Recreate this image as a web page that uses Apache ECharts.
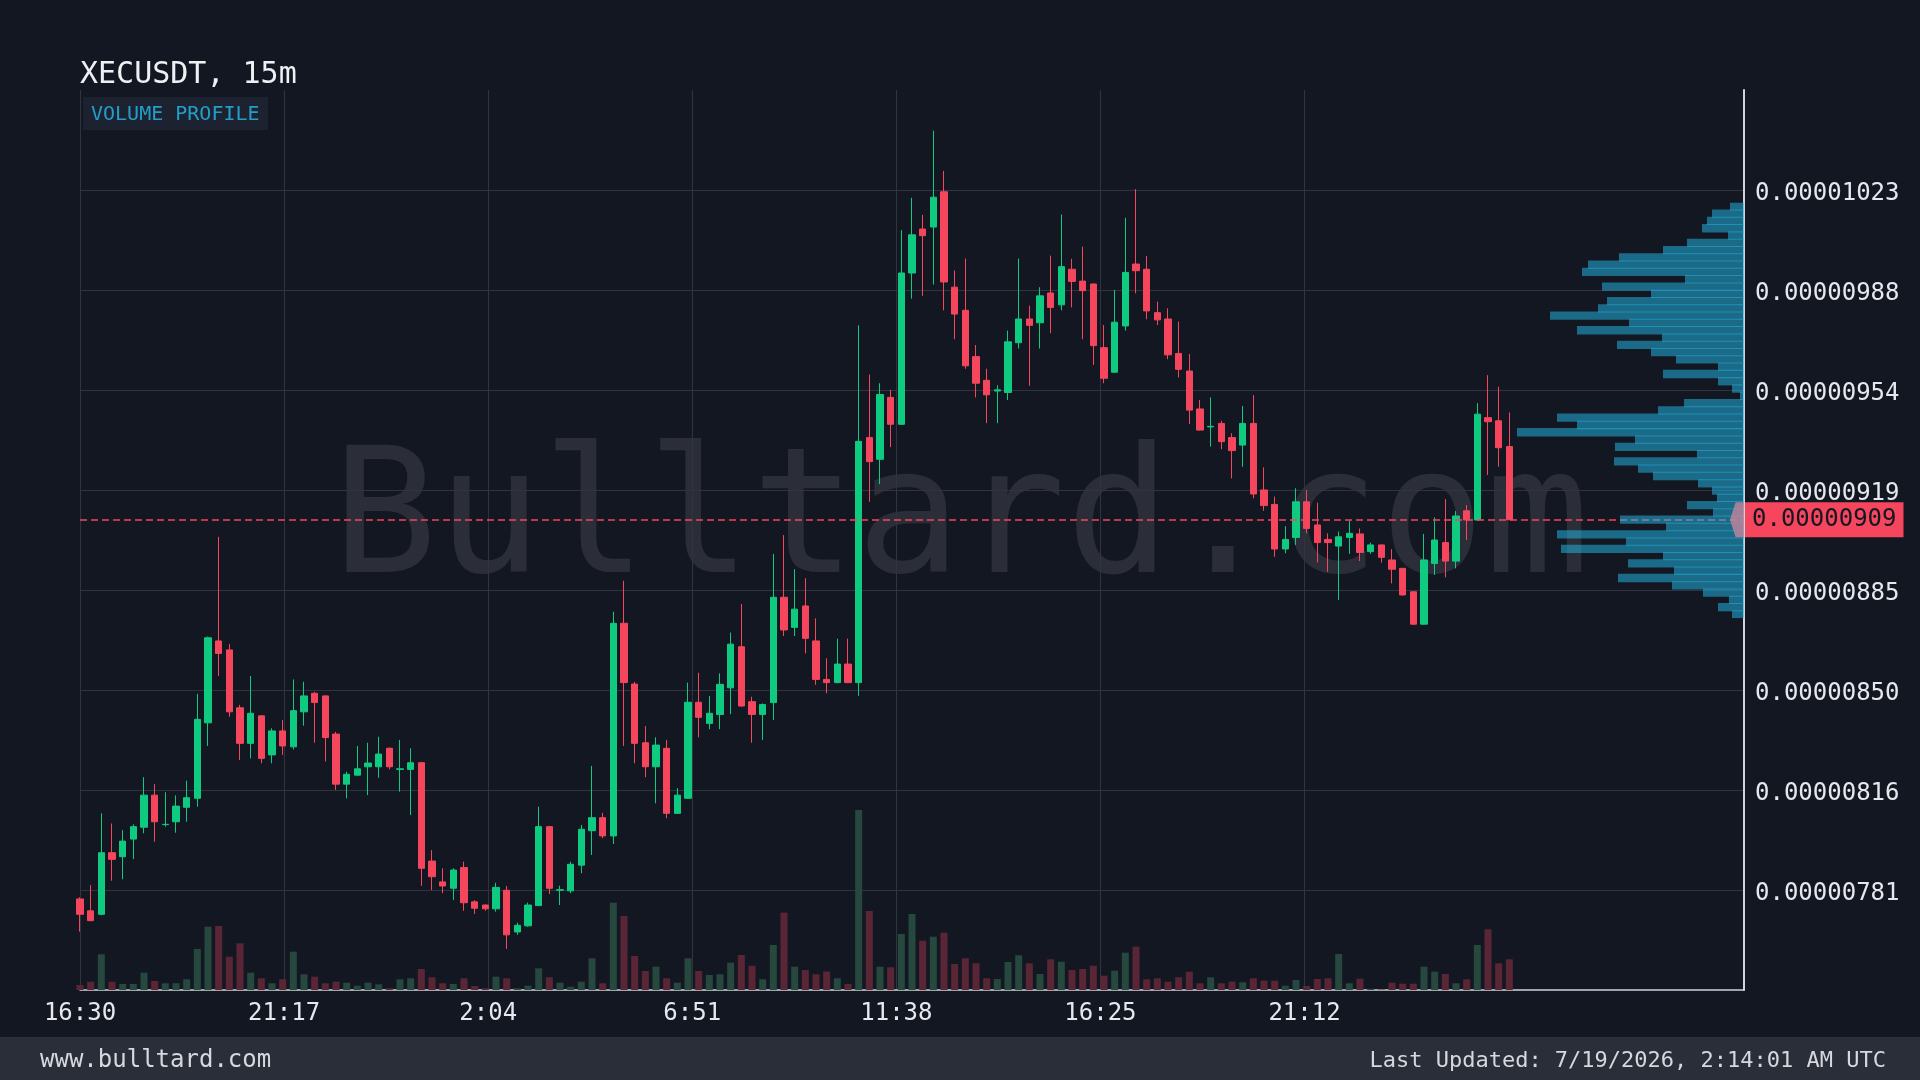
<!DOCTYPE html>
<html>
<head>
<meta charset="utf-8" />
<title>XECUSDT, 15m</title>
<script src="https://cdn.jsdelivr.net/npm/echarts@6/dist/echarts.min.js"></script>
<style>
  html, body { margin: 0; padding: 0; background: #131722; }
  #main { width: 1920px; height: 1080px; }
</style>
</head>
<body>
<div id="main"></div>
<script>
// prices are in units of 1e-8 USDT, one candle every 15 minutes from 16:30
var barMinutes = 15;

var opens = [777.9,773.8,772.6,793.9,792.5,798.6,802.7,813.8,803.6,804.6,
  809.6,812.7,838.8,867.1,864.0,844.0,831.7,841.2,827.7,836.0,
  830.5,842.6,849.0,848.1,834.9,817.6,820.7,823.6,823.6,830.0,
  822.7,822.7,825.0,791.0,783.8,781.6,788.8,776.9,775.8,774.5,
  780.9,766.5,768.6,775.6,802.9,780.9,780.7,789.6,801.5,806.0,
  799.7,873.2,852.2,831.9,823.6,830.0,807.5,812.7,845.9,838.6,
  841.7,850.9,865.1,846.1,841.7,845.8,882.2,871.8,879.2,867.1,
  853.8,852.7,859.1,852.7,937.4,929.9,951.3,942.0,994.3,1009.5,
  1010.2,1022.4,989.4,981.4,965.4,957.2,953.5,953.0,970.2,978.4,
  977.1,987.4,983.3,995.6,991.5,990.5,968.5,960.0,976.0,997.4,
  995.6,980.6,978.4,966.5,960.4,947.3,941.1,942.3,937.4,934.8,
  942.3,919.3,914.3,898.9,902.9,915.2,907.2,902.2,899.9,902.9,
  904.1,898.0,900.3,895.1,892.2,884.1,872.9,893.9,901.1,894.7,
  912.1,908.9,944.3,943.2,934.3];

var closes = [772.6,770.4,793.9,791.6,797.9,802.9,813.8,804.6,803.7,810.0,
  812.9,840.0,868.2,862.8,842.6,831.7,842.1,826.5,836.0,830.8,
  843.0,848.1,845.8,833.7,817.6,821.0,822.9,824.9,828.0,823.6,
  822.9,825.0,788.5,785.6,782.4,787.9,776.6,774.7,774.5,781.9,
  765.5,768.8,775.8,802.9,781.6,781.1,789.9,802.0,806.0,799.7,
  873.2,852.7,831.7,823.6,831.1,807.5,813.8,845.9,840.7,842.1,
  852.1,866.0,844.6,841.7,845.1,882.2,870.9,878.1,868.0,853.8,
  852.7,859.1,852.7,936.1,929.1,952.3,942.0,994.3,1007.5,1007.2,
  1020.5,991.2,980.1,962.2,956.2,952.2,953.9,970.5,978.4,976.2,
  986.4,982.4,996.5,991.4,988.2,969.2,957.9,977.3,994.5,995.1,
  981.2,978.1,966.0,961.0,946.9,940.0,941.3,936.0,932.9,942.3,
  917.9,913.9,898.9,902.2,915.2,906.0,901.1,901.1,903.1,904.3,
  897.7,900.3,896.0,891.9,883.0,872.9,895.1,902.0,894.7,910.3,
  908.9,945.5,942.9,933.9,909.0];

var highs = [778.5,782.7,807.5,804.0,801.7,803.7,820.0,817.6,814.8,813.7,
  818.8,848.8,868.6,903.1,866.0,845.0,855.0,841.5,836.9,839.8,
  853.8,853.0,849.5,848.3,835.7,821.9,830.8,831.9,834.0,830.3,
  832.9,830.0,825.3,794.8,788.5,788.5,790.8,777.5,776.0,783.5,
  782.4,769.7,776.6,809.8,803.2,782.5,790.8,803.5,823.9,807.7,
  877.2,887.9,853.0,837.7,833.8,832.9,816.2,852.7,856.1,848.1,
  855.9,870.0,879.9,847.8,845.5,897.2,903.7,891.9,888.8,874.9,
  861.1,867.9,867.9,976.2,959.2,956.2,953.9,1009.1,1020.3,1014.4,
  1043.5,1029.6,995.2,999.3,969.4,961.2,955.5,974.4,999.3,983.0,
  989.4,1000.3,1014.5,999.2,1003.4,990.7,976.3,988.4,1013.4,1023.3,
  1000.2,984.4,982.1,977.5,966.3,950.4,951.3,943.2,938.9,948.3,
  952.1,927.1,917.0,906.8,919.9,919.3,914.9,904.3,904.9,908.7,
  906.0,901.1,900.4,898.8,892.3,884.2,904.1,909.8,916.1,912.0,
  914.1,949.3,959.0,955.0,946.1];

var lows = [766.6,770.3,772.3,784.2,784.7,791.7,800.6,797.7,802.9,800.8,
  804.6,809.8,830.8,855.0,840.9,825.9,826.5,824.8,824.8,827.7,
  829.6,837.8,831.9,825.4,815.6,812.7,820.7,813.8,819.8,822.7,
  815.0,806.9,782.4,781.0,779.9,777.5,773.8,772.7,773.8,773.5,
  760.6,765.5,768.3,775.6,779.6,775.8,779.9,786.8,793.1,798.9,
  796.9,830.8,824.8,820.0,811.0,805.8,807.3,812.5,833.8,836.6,
  836.6,841.8,844.4,831.9,832.9,839.8,868.8,868.8,862.8,851.9,
  849.0,852.5,852.5,848.1,915.2,921.3,934.1,941.8,985.4,986.4,
  990.3,981.4,971.4,961.2,951.3,942.4,942.4,950.4,968.2,955.3,
  968.2,973.5,981.4,982.4,971.4,962.5,956.2,959.8,974.4,987.3,
  978.3,976.3,964.5,958.2,942.1,939.8,934.3,933.4,923.3,927.3,
  916.4,912.1,896.2,897.4,900.3,904.3,894.2,891.0,881.3,897.2,
  894.7,897.2,894.2,887.0,882.8,872.7,872.7,889.9,889.1,892.2,
  902.0,908.7,924.5,927.3,909.0];

var volumes = [5,8.3,35.7,8.3,6,6,17.3,9,6.7,6.7,
  10.7,41,63.3,64,33.3,46.7,17.3,11.7,6.7,10.7,
  38.3,15.7,13.3,6.7,8.3,7.3,4.3,7.3,5.7,1.7,
  10.7,11.7,21,12.7,6.7,6,11.7,4,1.7,13.3,
  11.7,1.7,4.3,21.7,12.7,7.3,3.3,8.3,31.7,6.7,
  87.3,74,34,19,23.3,11.7,7.3,31.7,19,15,
  15.7,27.3,35,24.3,10.7,45,77.3,23.3,20,15.7,
  18.5,11.7,6,180,79,23.3,22.7,56,76,49.3,
  53.3,57.3,26,31.7,26.7,11.7,11,28,34.7,26.7,
  16,30.7,28.3,20,21,24.3,14.3,19.3,37.3,43.3,
  10.7,11.7,8.3,12.7,18.3,6.7,12.7,6.7,8.3,7.7,
  11.7,9.3,9.3,4.3,10,4,11,11.7,36,6.7,
  11.3,1.3,0.5,7.3,6.3,6.3,23.3,18.3,16,6.7,
  10.7,45,60.7,26.7,30.7];

// volume profile, top (high price) to bottom
var profileHigh = 1018.6, profileLow = 875.0;
var profileBins = [14,32,37,42,16,57,81,125,156,162,
  59,142,93,137,146,194,115,167,82,127,
  93,68,26,81,26,12,4,60,86,187,
  167,227,109,129,47,130,106,91,46,32,
  27,57,31,124,78,187,118,183,81,116,
  70,126,72,41,15,26,12];

var yTickLabels = ['', '0.00000781', '0.00000816', '0.00000850', '0.00000885',
  '0.00000919', '0.00000954', '0.00000988', '0.00001023', ''];
var priceMin = 746.43, priceMax = 1057.57;

var xTickMinutes = [0, 287, 574, 861, 1148, 1435, 1722];
var xTickLabels = ['16:30', '21:17', '2:04', '6:51', '11:38', '16:25', '21:12'];
var xMaxMinutes = 2340;

var UP = '#0ecb81', DOWN = '#f6465d';
var VOL_UP = '#26483f', VOL_DOWN = '#5a2636';
var GRID_COLOR = '#30343f';
var AXIS_COLOR = '#d1d4dc';
var MONO = "'DejaVu Sans Mono', monospace";

var GRID_LEFT = 80, GRID_RIGHT = 176, GRID_TOP = 90, GRID_H = 900;
var plotWidth = 1920 - GRID_LEFT - GRID_RIGHT;

var candleData = opens.map(function (o, i) {
  return [i * barMinutes, o, closes[i], lows[i], highs[i]];
});
var volumeData = volumes.map(function (v, i) {
  return { value: [i * barMinutes, v], itemStyle: { color: closes[i] >= opens[i] ? VOL_UP : VOL_DOWN } };
});
var lastClose = closes[closes.length - 1];

// place the profile grid on the price scale
function priceToY(p) { return GRID_TOP + (priceMax - p) / (priceMax - priceMin) * GRID_H; }
var profTop = priceToY(profileHigh);
var profBottom = priceToY(profileLow);

var chart = echarts.init(document.getElementById('main'));

var option = {
  backgroundColor: '#131722',
  animation: false,
  graphic: [
    { type: 'text', x: 961, y: 527, z: 0, silent: true,
      style: { text: 'Bulltard.com', fill: 'rgba(255,255,255,0.1)', font: "174px 'DejaVu Sans Mono'", align: 'center', verticalAlign: 'middle' } },
    { type: 'text', x: 80, y: 75, silent: true,
      style: { text: 'XECUSDT, 15m', fill: '#eef0f4', font: "30px 'DejaVu Sans Mono'", verticalAlign: 'middle' } },
    { type: 'rect', shape: { x: 83, y: 97, width: 185, height: 33 }, silent: true, style: { fill: '#1d2230' } },
    { type: 'text', x: 91, y: 114.5, silent: true,
      style: { text: 'VOLUME PROFILE', fill: '#239ec9', font: "20px 'DejaVu Sans Mono'", verticalAlign: 'middle' } },
    { type: 'rect', shape: { x: 0, y: 1037, width: 1920, height: 43 }, silent: true, style: { fill: '#2a2e39' } },
    { type: 'text', x: 40, y: 1061, silent: true,
      style: { text: 'www.bulltard.com', fill: '#d6d8de', font: "24px 'DejaVu Sans Mono'", verticalAlign: 'middle' } },
    { type: 'text', x: 1886, y: 1061, silent: true,
      style: { text: 'Last Updated: 7/19/2026, 2:14:01 AM UTC', fill: '#d6d8de', font: "22px 'DejaVu Sans Mono'", align: 'right', verticalAlign: 'middle' } }
  ],
  grid: [
    { left: GRID_LEFT, right: GRID_RIGHT, top: GRID_TOP, height: GRID_H },
    { left: GRID_LEFT, right: GRID_RIGHT, top: profTop, height: profBottom - profTop }
  ],
  xAxis: [
    {
      type: 'value', gridIndex: 0, min: 0, max: xMaxMinutes, interval: 287,
      axisLine: { show: true, onZero: false, lineStyle: { color: AXIS_COLOR, width: 1.5 } },
      axisTick: { show: false, customValues: xTickMinutes },
      axisLabel: {
        customValues: xTickMinutes,
        formatter: function (v) { var k = xTickMinutes.indexOf(v); return k >= 0 ? xTickLabels[k] : ''; },
        color: '#e6e8ee', fontFamily: MONO, fontSize: 24, margin: 11.5
      },
      splitLine: { show: true, lineStyle: { color: GRID_COLOR, width: 1 } }
    },
    { type: 'value', gridIndex: 1, inverse: true, min: 0, max: plotWidth, show: false }
  ],
  yAxis: [
    {
      type: 'category', gridIndex: 0, position: 'right', boundaryGap: false, data: yTickLabels,
      axisLine: { show: true, onZero: false, lineStyle: { color: AXIS_COLOR, width: 2 } },
      axisTick: { show: false },
      axisLabel: {
        interval: 0, color: '#e6e8ee', fontFamily: MONO, fontSize: 24, margin: 11,
        verticalAlign: 'top', lineHeight: 7
      },
      splitLine: {
        show: true,
        interval: function (i) { return i > 0 && i < yTickLabels.length - 1; },
        lineStyle: { color: GRID_COLOR, width: 1 }
      }
    },
    { type: 'value', gridIndex: 0, min: priceMin, max: priceMax, show: false },
    { type: 'value', gridIndex: 0, min: 0, max: GRID_H, show: false },
    { type: 'category', gridIndex: 1, inverse: true, show: false,
      data: profileBins.map(function (_, i) { return i; }) }
  ],
  series: [
    {
      type: 'bar', name: 'Volume', xAxisIndex: 0, yAxisIndex: 2,
      data: volumeData, barWidth: 7, z: 1, silent: true
    },
    {
      type: 'candlestick', name: 'XECUSDT', xAxisIndex: 0, yAxisIndex: 1,
      data: candleData, encode: { x: 0, y: [1, 2, 3, 4] },
      barWidth: 7, z: 3,
      itemStyle: { color: UP, color0: DOWN, borderColor: UP, borderColor0: DOWN, borderWidth: 1 },
      markLine: {
        symbol: ['none', 'none'], silent: true, animation: false,
        lineStyle: { color: DOWN, type: [7, 4], width: 1.5 },
        label: {
          show: true, position: 'end', distance: 1,
          formatter: (lastClose / 1e8).toFixed(8),
          backgroundColor: DOWN, color: '#131722',
          fontFamily: MONO, fontSize: 24, lineHeight: 24, padding: [7, 7, 4, 7]
        },
        data: [{ yAxis: lastClose }]
      }
    },
    {
      type: 'bar', name: 'Volume Profile', xAxisIndex: 1, yAxisIndex: 3,
      data: profileBins, barWidth: 8.3, z: 5, silent: true,
      itemStyle: { color: 'rgba(35,182,230,0.52)' }
    },
    {
      type: 'scatter', xAxisIndex: 0, yAxisIndex: 1, z: 6, silent: true, clip: false,
      data: [[xMaxMinutes, lastClose]],
      symbol: 'path://M0,50 L40,0 L100,0 L100,100 L40,100 Z',
      symbolSize: [14, 35], symbolOffset: [-7, 0],
      itemStyle: { color: '#c7859c' }
    }
  ]
};

chart.setOption(option);
</script>
</body>
</html>
